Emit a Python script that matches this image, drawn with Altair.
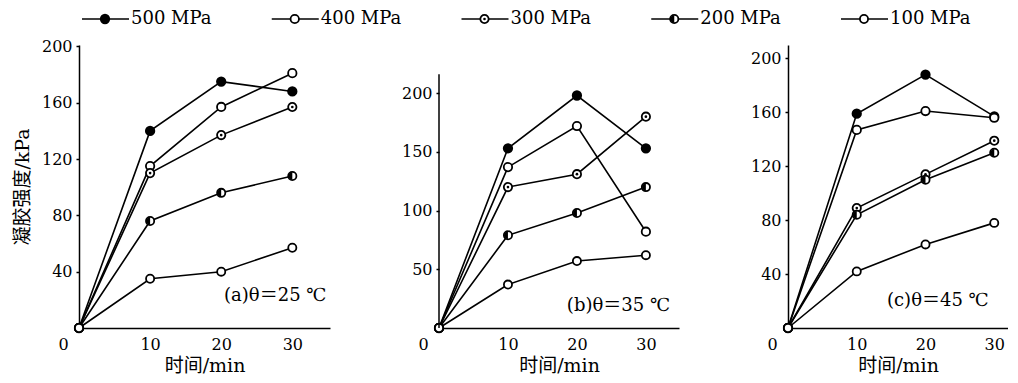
import altair as alt
import pandas as pd

# ---------------- data ----------------
times = [0, 10, 20, 30]
series = ["500 MPa", "400 MPa", "300 MPa", "200 MPa", "100 MPa"]

# panel (a) 25 C
a_500 = [0, 140, 175, 168]
a_400 = [0, 115, 157, 181]
a_300 = [0, 110, 137, 157]
a_200 = [0, 76, 96, 108]
a_100 = [0, 35, 40, 57]

# panel (b) 35 C
b_500 = [0, 153, 198, 153]
b_400 = [0, 137, 172, 82]
b_300 = [0, 120, 131, 180]
b_200 = [0, 79, 98, 120]
b_100 = [0, 37, 57, 62]

# panel (c) 45 C
c_500 = [0, 159, 188, 157]
c_400 = [0, 147, 161, 156]
c_300 = [0, 89, 114, 139]
c_200 = [0, 84, 110, 130]
c_100 = [0, 42, 62, 78]

notes = ["(a)θ＝25 ℃", "(b)θ＝35 ℃", "(c)θ＝45 ℃"]
note_x = [34.8, 33.5, 29.2]
note_y = [23, 19, 20]

x_tick_values = [0, 10, 20, 30]
a_y_ticks = [40, 80, 120, 160, 200]
b_y_ticks = [50, 100, 150, 200]
c_y_ticks = [40, 80, 120, 160, 200]

x_title = "时间/min"
y_title = "凝胶强度/kPa"

# ---------------- style ----------------
FONT = "DejaVu Serif, Noto Sans CJK SC"
fills = ["black", "white", "white", "white", "white"]
sizes = [72, 66, 70, 72, 150]
HALF = "M0,-1A1,1,0,0,0,0,1Z"
H = 283


def long_df(vals):
    rows = []
    for s, v in zip(series, vals):
        for t, y in zip(times, v):
            rows.append({"series": s, "time": t, "value": y})
    return pd.DataFrame(rows)


def markers(base, x, y, extra_filter=None):
    circ = base.mark_point(shape="circle", filled=True, stroke="black",
                           strokeWidth=1.8, opacity=1).encode(
        x=x, y=y,
        fill=alt.Fill("series:N", scale=alt.Scale(domain=series, range=fills), legend=None),
        size=alt.Size("series:N", scale=alt.Scale(domain=series, range=sizes), legend=None),
    )
    hb = base.transform_filter(alt.datum.series == "200 MPa")
    db = base.transform_filter(alt.datum.series == "300 MPa")
    if extra_filter is not None:
        hb = hb.transform_filter(extra_filter)
        db = db.transform_filter(extra_filter)
    half = hb.mark_point(shape=HALF, filled=True, fill="black", size=60,
                         strokeWidth=0, opacity=1).encode(x=x, y=y)
    dot = db.mark_point(shape="circle", filled=True, fill="black", size=7,
                        strokeWidth=0, opacity=1).encode(x=x, y=y)
    return [circ, half, dot]


def panel(vals, xmax, ymax, yticks, width, idx, ytitle=None, axis_top=None):
    df = long_df(vals)
    base = alt.Chart(df)
    y_axis_kw = dict(values=yticks, tickSize=3, labelPadding=4, titlePadding=9,
                     domain=axis_top is None)
    y_axis_kw["title"] = ytitle
    x = alt.X("time:Q", scale=alt.Scale(domain=[0, xmax], nice=False, zero=True),
              axis=alt.Axis(values=x_tick_values, title=x_title, tickSize=0,
                            labelPadding=8, titlePadding=4,
                            labelOffset={"condition": {"test": "datum.value === 0", "value": -21},
                                         "value": 0}))
    y = alt.Y("value:Q", scale=alt.Scale(domain=[0, ymax], nice=False, zero=True),
              axis=alt.Axis(**y_axis_kw))
    lines = base.mark_line(color="black", strokeWidth=1.6).encode(
        x=x, y=y, detail="series:N", order="time:Q")
    layers = [lines] + markers(base, x, y, alt.datum.time > 0)
    note = alt.Chart(pd.DataFrame({"t": [notes[idx]]})).mark_text(
        align="right", baseline="middle", font=FONT, fontSize=18, color="black").encode(
        x=alt.datum(note_x[idx]), y=alt.datum(note_y[idx]), text="t:N")
    layers.append(note)
    if axis_top is not None:
        rule = alt.Chart(pd.DataFrame({"t": [0]})).mark_rule(color="black", strokeWidth=1.5).encode(
            x=alt.datum(0), y=alt.datum(0), y2=alt.datum(axis_top))
        layers.append(rule)
    return alt.layer(*layers).properties(width=width, height=H)


pa = panel([a_500, a_400, a_300, a_200, a_100], 35.3, 201, a_y_ticks, 251, 0, ytitle=y_title)
pb = panel([b_500, b_400, b_300, b_200, b_100], 34.8, 241, b_y_ticks, 240, 1, axis_top=216)
pc = panel([c_500, c_400, c_300, c_200, c_100], 32.0, 210, c_y_ticks, 220, 2)

# ---------------- legend row ----------------
leg_df = pd.DataFrame({"series": series})
lbase = alt.Chart(leg_df)
lx = alt.X("series:N", sort=series,
           scale=alt.Scale(type="point", domain=series, range=[26, 785], padding=0),
           axis=None)
ly = alt.value(8)
lline = lbase.mark_rule(color="black", strokeWidth=1.6, xOffset=-23, x2Offset=24).encode(
    x=lx, x2=alt.X2("series:N"), y=ly)
ltext = lbase.mark_text(align="left", baseline="middle", dx=26, font=FONT,
                        fontSize=18, color="black").encode(x=lx, y=ly, text="series:N")
legend = alt.layer(lline, *markers(lbase, lx, ly), ltext).properties(width=900, height=16)

row = alt.hconcat(alt.hconcat(pa, pb, spacing=71), pc, spacing=71)
chart = alt.vconcat(legend, row, spacing=10).properties(
    padding={"left": 5, "top": 2, "right": 0, "bottom": 0}
).configure_axis(
    domainColor="black", domainWidth=1.5, labelFont=FONT, labelFontSize=16,
    labelColor="black", titleFont=FONT, titleFontSize=19, titleFontWeight="normal",
    titleColor="black", grid=False, tickColor="black", tickWidth=1.5,
).configure_view(stroke=None)

chart.save("out.html", embed_options={"renderer": "svg", "actions": False})
